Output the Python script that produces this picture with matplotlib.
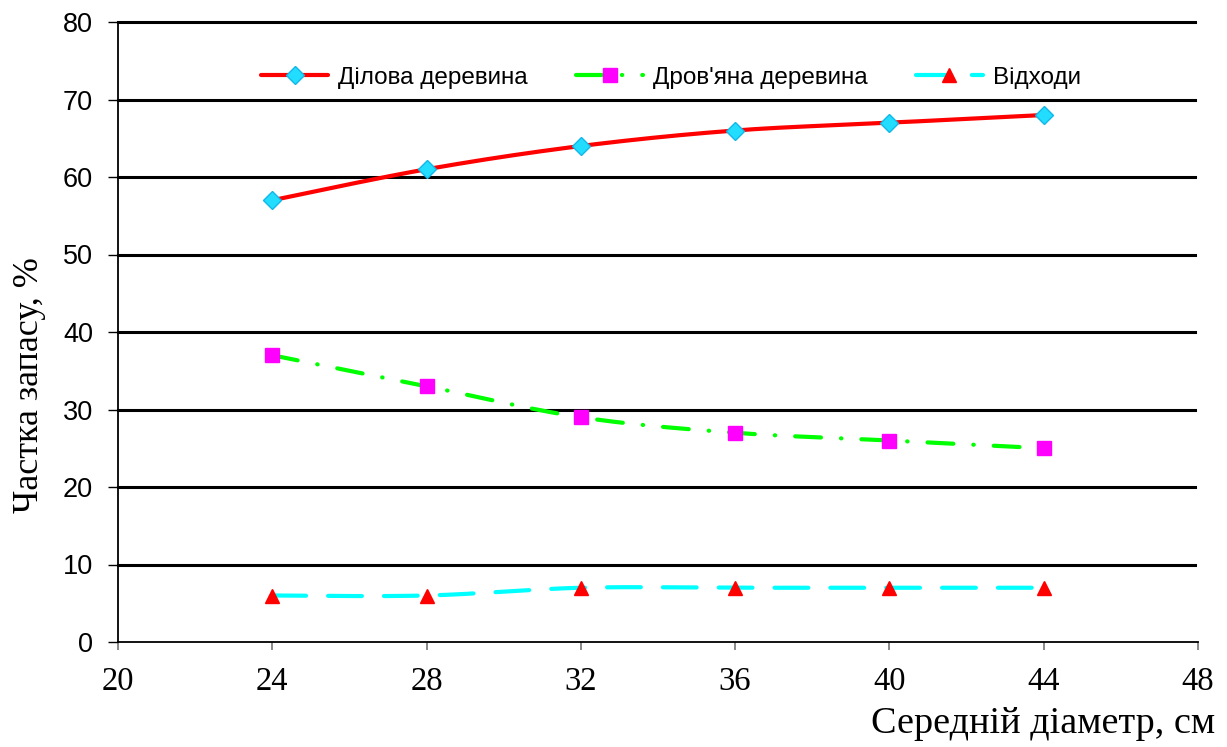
import numpy as np
import matplotlib
import matplotlib.pyplot as plt
from matplotlib.lines import Line2D
matplotlib.use('Agg')

# середній діаметр, см
diameters = [24, 28, 32, 36, 40, 44]

# частка запасу, %
dilova = [57, 61, 64, 66, 67, 68]
drovyana = [37, 33, 29, 27, 26, 25]
vidkhody = [6, 6, 7, 7, 7, 7]

names = ["Ділова деревина", "Дров'яна деревина", "Відходи"]
x_ticks = [20, 24, 28, 32, 36, 40, 44, 48]
y_ticks = [0, 10, 20, 30, 40, 50, 60, 70, 80]


def smooth(xs, ys, n=40):
    # згладжування як у Excel: кубічні Безьє з контрольними точками Catmull-Rom
    p = np.column_stack([xs, ys]).astype(float)
    p_ext = np.vstack([p[0], p, p[-1]])
    out = []
    t = np.linspace(0, 1, n)[:, None]
    for i in range(len(p) - 1):
        p0, p1, p2, p3 = p_ext[i], p_ext[i + 1], p_ext[i + 2], p_ext[i + 3]
        c1 = p1 + (p2 - p0) / 6.0
        c2 = p2 - (p3 - p1) / 6.0
        seg = ((1 - t) ** 3) * p1 + 3 * ((1 - t) ** 2) * t * c1 + 3 * (1 - t) * t ** 2 * c2 + t ** 3 * p2
        out.append(seg if i == 0 else seg[1:])
    out = np.vstack(out)
    return out[:, 0], out[:, 1]


fig = plt.figure(figsize=(12.27, 7.47), dpi=100)
ax = fig.add_axes([118 / 1227, 105 / 747, 1080 / 1227, 620 / 747])

lw = 3.0
styles = [
    dict(color='#FF0000', ls='-', marker='D', mfc='#22DDFF', mec='#10B8E8', ms=9),
    dict(color='#00FF00', ls=(0, (6.2, 4.8, 0.1, 4.8)), marker='s', mfc='#FF00FF', mec='#FF00FF', ms=10),
    dict(color='#00FFFF', ls=(0, (8.1, 5.3)), marker='^', mfc='#FF0000', mec='#FF0000', ms=10),
]
series = [dilova, drovyana, vidkhody]

handles = []
for vals, st, name in zip(series, styles, names):
    sx, sy = smooth(diameters, vals)
    ax.plot(sx, sy, color=st['color'], ls=st['ls'], lw=lw,
            dash_capstyle='round', solid_capstyle='round', zorder=3)
    ax.plot(diameters, vals, ls='none', marker=st['marker'], ms=st['ms'],
            mfc=st['mfc'], mec=st['mec'], mew=1, zorder=4)
    handles.append(Line2D([], [], color=st['color'], ls=st['ls'], lw=lw,
                          dash_capstyle='round', solid_capstyle='round',
                          marker=st['marker'], ms=st['ms'], mfc=st['mfc'],
                          mec=st['mec'], mew=1))

ax.set_xlim(20, 48)
ax.set_ylim(0, 80)
ax.set_xticks(x_ticks)
ax.set_yticks(y_ticks)

for y in y_ticks[1:]:
    ax.axhline(y, xmax=0.997, color='black', lw=2.2, zorder=1, clip_on=False)

for s in ['top', 'right']:
    ax.spines[s].set_visible(False)
ax.spines['left'].set_linewidth(1.3)
ax.spines['bottom'].set_linewidth(1.3)

ax.tick_params(axis='y', direction='out', length=7, width=1.0, pad=11,
               labelsize=19.5)
ax.tick_params(axis='x', direction='out', length=6, width=1.3, pad=12,
               color='#808080', labelsize=23.5)
for lab in ax.get_yticklabels():
    lab.set_fontfamily('Liberation Sans')
for lab in ax.get_xticklabels():
    lab.set_fontfamily('Liberation Serif')

leg = ax.legend(handles, names, loc='center', bbox_to_anchor=(0.512, 0.91),
                ncol=3, frameon=False, numpoints=1, handlelength=2.75,
                handletextpad=0.4, columnspacing=2.0,
                prop={'family': 'Liberation Sans', 'size': 17.5})

fig.text(30 / 1227, 1 - 385 / 747, 'Частка запасу, %', rotation=90,
         ha='center', va='center', family='Liberation Serif', fontsize=26)
fig.text(1215 / 1227, 6 / 747, 'Середній діаметр, см', ha='right',
         va='bottom', family='Liberation Serif', fontsize=27.5)

plt.savefig('out.png', dpi=100)
